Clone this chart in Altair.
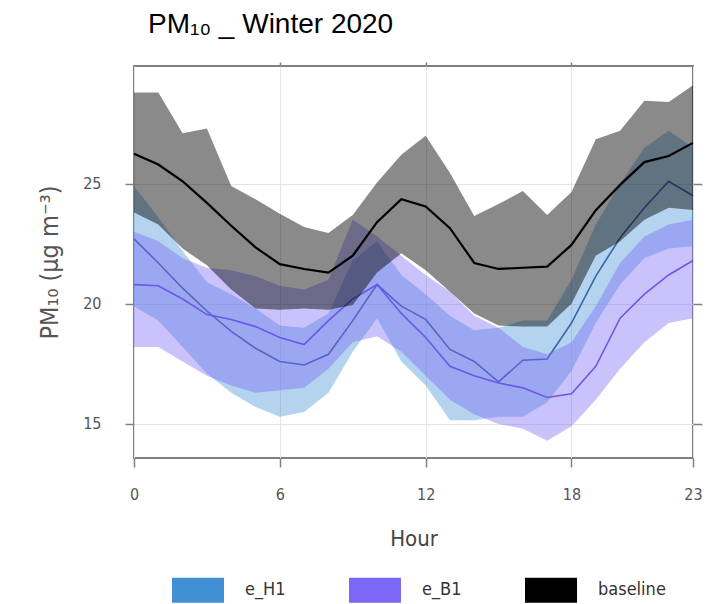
import altair as alt
import pandas as pd

hours = list(range(24))

series_names = ["e_H1", "e_B1", "baseline"]
fill_colors = ["#4190d6", "#7b66f5", "#000000"]
line_colors = ["#3a66a6", "#6a58e8", "#000000"]

base_mean = [26.25, 25.8, 25.1, 24.2, 23.25, 22.35, 21.65, 21.45, 21.3, 22.0, 23.4, 24.35,
             24.05, 23.15, 21.7, 21.45, 21.5, 21.55, 22.45, 23.9, 24.95, 25.9, 26.15, 26.7]
base_hi = [28.8, 28.8, 27.1, 27.3, 24.9, 24.35, 23.75, 23.2, 22.95, 23.7, 25.05, 26.2,
           27.0, 25.45, 23.65, 24.15, 24.7, 23.7, 24.65, 26.85, 27.2, 28.45, 28.4, 29.1]
base_lo = [23.8, 23.3, 22.3, 21.6, 20.6, 19.8, 19.75, 19.8, 19.75, 19.95, 21.3, 22.1,
           21.4, 20.5, 19.6, 19.1, 19.05, 19.05, 20.0, 22.0, 22.6, 23.5, 24.0, 23.9]

h1_mean = [22.7, 21.7, 20.65, 19.7, 18.85, 18.15, 17.6, 17.45, 17.9, 19.3, 20.8, 19.9,
           19.35, 18.1, 17.6, 16.75, 17.65, 17.7, 19.2, 21.15, 22.75, 24.0, 25.1, 24.5]
h1_hi = [24.9, 23.6, 22.2, 20.9, 20.4, 19.8, 19.1, 19.0, 19.6, 21.8, 22.6, 21.2,
         20.4, 19.5, 18.9, 19.0, 19.3, 19.3, 21.0, 23.3, 25.0, 26.5, 27.2, 26.5]
h1_lo = [19.9, 19.3, 18.2, 17.1, 16.3, 15.7, 15.3, 15.5, 16.3, 18.0, 19.4, 17.6,
         16.6, 15.15, 15.15, 15.3, 15.3, 15.9, 17.2, 19.2, 20.8, 21.9, 22.3, 22.4]

b1_mean = [20.8, 20.75, 20.2, 19.55, 19.35, 19.05, 18.6, 18.3, 19.3, 20.2, 20.8, 19.6,
           18.6, 17.4, 17.0, 16.7, 16.5, 16.1, 16.25, 17.4, 19.4, 20.4, 21.2, 21.8]
b1_hi = [23.0, 22.6, 21.9, 21.5, 21.4, 21.15, 20.75, 20.6, 21.0, 23.5, 22.8, 22.0,
         21.2, 20.5, 19.5, 19.0, 18.2, 17.9, 18.4, 19.9, 21.7, 22.8, 23.3, 23.5]
b1_lo = [18.2, 18.2, 17.6, 17.0, 16.6, 16.3, 16.4, 16.5, 17.3, 18.4, 18.65, 18.0,
         17.0, 16.0, 15.4, 15.0, 14.8, 14.3, 14.9, 16.0, 17.3, 18.4, 19.2, 19.4]

x_ticks = [0, 6, 12, 18, 23]
y_ticks = [15, 20, 25]

rows = []
for name, m, lo, hi in [("e_H1", h1_mean, h1_lo, h1_hi),
                        ("e_B1", b1_mean, b1_lo, b1_hi),
                        ("baseline", base_mean, base_lo, base_hi)]:
    for h, a, b, c in zip(hours, m, lo, hi):
        rows.append({"hour": h, "series": name, "mean": a, "lo": b, "hi": c})
df = pd.DataFrame(rows)

FONT = "Liberation Sans Narrow, DejaVu Sans Condensed, sans-serif"

xs = alt.Scale(domain=[0, 23], nice=False, zero=False)
ys = alt.Scale(domain=[13.58, 29.9], nice=False, zero=False)

x_axis = alt.Axis(values=x_ticks, title="Hour", grid=True, gridColor="#e4e4e4",
                  domain=False, tickColor="#808080", tickSize=9, tickWidth=1.5,
                  labelFont=FONT, labelFontSize=16, labelColor="#555555", labelPadding=19,
                  labelFlush=False,
                  titleFont=FONT, titleFontSize=22, titleFontWeight="normal",
                  titleColor="#444444", titlePadding=26)
y_axis = alt.Axis(values=y_ticks, title="PM₁₀ (µg m⁻³)", grid=True, gridColor="#e4e4e4",
                  domain=False, tickColor="#808080", tickSize=9, tickWidth=1.5,
                  labelFont=FONT, labelFontSize=16, labelColor="#555555", labelPadding=24,
                  labelFlush=False,
                  titleFont=FONT, titleFontSize=25, titleFontWeight="normal",
                  titleColor="#555555", titlePadding=20)
x_top = alt.Axis(values=[6, 12, 18], orient="top", labels=False, title=None, grid=False,
                 domain=False, tickColor="#808080", tickSize=4, tickWidth=1.5)
y_right = alt.Axis(values=y_ticks, orient="right", labels=False, title=None, grid=False,
                   domain=False, tickColor="#808080", tickSize=9, tickWidth=1.5)

legend = alt.Legend(title=None, orient="none", legendX=38, legendY=498,
                    direction="horizontal",
                    symbolType="M-1,-0.48L1,-0.48L1,0.48L-1,0.48Z", symbolSize=2704,
                    symbolOpacity=1, symbolStrokeWidth=0,
                    labelFont=FONT, labelFontSize=18, labelColor="#333333",
                    labelOffset=21, columnPadding=63)

color = alt.Color("series:N", scale=alt.Scale(domain=series_names, range=fill_colors),
                  legend=legend)

base = alt.Chart(df)


def band(name, op, xa=None, ya=None):
    return base.transform_filter(alt.datum.series == name).mark_area(
        opacity=op, interpolate="linear").encode(
        x=alt.X("hour:Q", scale=xs, axis=xa),
        y=alt.Y("lo:Q", scale=ys, axis=ya),
        y2="hi:Q",
        color=color,
    )


def mean_line(name, col, width, xa=None, ya=None, op=1.0):
    return base.transform_filter(alt.datum.series == name).mark_line(
        color=col, strokeWidth=width, opacity=op).encode(
        x=alt.X("hour:Q", scale=xs, axis=xa),
        y=alt.Y("mean:Q", scale=ys, axis=ya),
    )


layers = [
    band("e_H1", 0.4, x_axis, y_axis),
    mean_line("e_H1", line_colors[0], 1.6),
    band("e_B1", 0.4),
    mean_line("e_B1", line_colors[1], 1.6),
    band("baseline", 0.46),
    mean_line("baseline", line_colors[2], 2.2, x_top, y_right),
]

chart = alt.layer(*layers).resolve_axis(x="independent", y="independent").properties(
    width=559,
    height=392,
    autosize=alt.AutoSizeParams(type="none"),
    padding={"left": 134, "top": 66, "right": 26, "bottom": 146},
    title=alt.TitleParams(text="PM₁₀ _ Winter 2020", anchor="start", frame="group",
                          dx=14, offset=0, fontSize=28, font="Liberation Sans",
                          fontWeight="normal", color="#000000", baseline="alphabetic"),
).configure_view(stroke="#7f7f7f", strokeWidth=2)

chart.save("out.html", embed_options={"renderer": "svg", "actions": False})
